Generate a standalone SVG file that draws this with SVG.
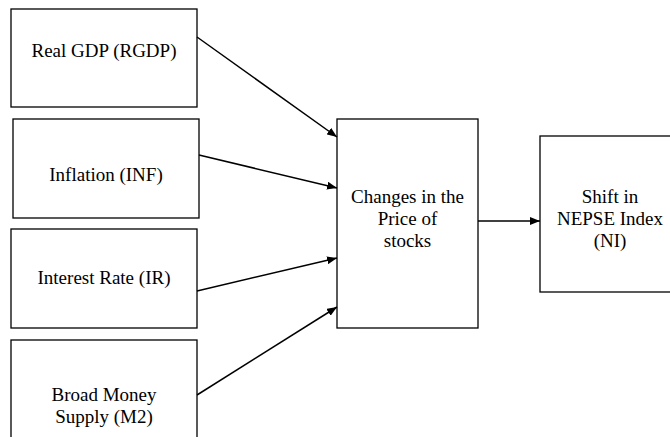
<svg xmlns="http://www.w3.org/2000/svg" width="670" height="437" viewBox="0 0 670 437">
<style>
.box{fill:#fff;stroke:#000;stroke-width:1.3}
.t{font-family:'Liberation Serif','DejaVu Serif',serif;font-size:19px;fill:#000;text-anchor:middle}
.c{stroke:#000;stroke-width:1.5;fill:none;marker-end:url(#ah)}
</style>
<defs>
<marker id="ah" viewBox="0 0 10 8" refX="10" refY="4" markerWidth="10" markerHeight="8" markerUnits="userSpaceOnUse" orient="auto">
<path d="M0,0 L10,4 L0,8 Z" fill="#000"/>
</marker>
</defs>
<rect width="670" height="437" fill="#fff"/>
<g id="rgdp"><rect class="box" x="11" y="9" width="186" height="98"/><text class="t" x="104" y="57">Real GDP (RGDP)</text></g>
<g id="inf"><rect class="box" x="13" y="119" width="186" height="99"/><text class="t" x="106" y="181">Inflation (INF)</text></g>
<g id="ir"><rect class="box" x="11" y="229" width="186" height="99"/><text class="t" x="104" y="284">Interest Rate (IR)</text></g>
<g id="m2"><rect class="box" x="11" y="340" width="186" height="110"/><text class="t" x="104" y="401">Broad Money</text><text class="t" x="104" y="423">Supply (M2)</text></g>
<g id="price"><rect class="box" x="337" y="119" width="141" height="209"/><text class="t" x="407.5" y="203">Changes in the</text><text class="t" x="407.5" y="225">Price of</text><text class="t" x="407.5" y="247">stocks</text></g>
<g id="nepse"><rect class="box" x="540" y="136" width="140" height="156"/><text class="t" x="610" y="203">Shift in</text><text class="t" x="610" y="225">NEPSE Index</text><text class="t" x="610" y="247">(NI)</text></g>
<g id="connectors">
<line class="c" x1="197" y1="37" x2="337" y2="137"/>
<line class="c" x1="199" y1="155" x2="337" y2="188"/>
<line class="c" x1="197" y1="291" x2="337" y2="258"/>
<line class="c" x1="197" y1="395" x2="337" y2="307"/>
<line class="c" x1="478" y1="221" x2="540" y2="221"/>
</g>
</svg>
